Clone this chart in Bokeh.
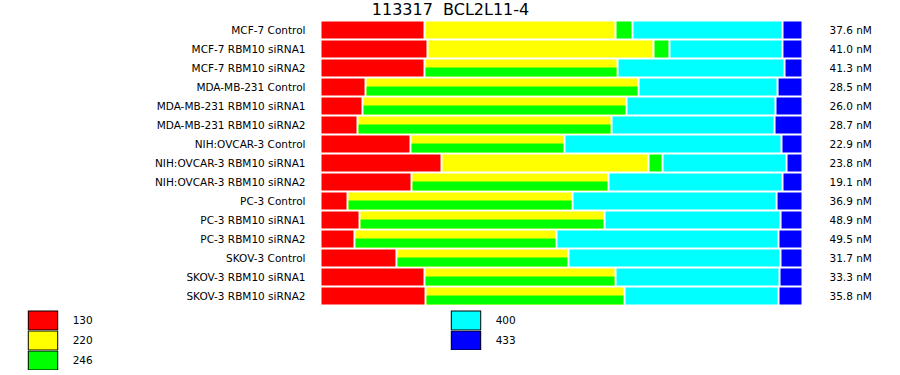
from bokeh.plotting import figure
from bokeh.models import Range1d, Legend, LegendItem, Label, ColumnDataSource
from bokeh.core.properties import value
from bokeh.embed import file_html
from bokeh.resources import INLINE

title_text = "113317\u00a0 BCL2L11-4"

samples = [
    "MCF-7 Control", "MCF-7 RBM10 siRNA1", "MCF-7 RBM10 siRNA2",
    "MDA-MB-231 Control", "MDA-MB-231 RBM10 siRNA1", "MDA-MB-231 RBM10 siRNA2",
    "NIH:OVCAR-3 Control", "NIH:OVCAR-3 RBM10 siRNA1", "NIH:OVCAR-3 RBM10 siRNA2",
    "PC-3 Control", "PC-3 RBM10 siRNA1", "PC-3 RBM10 siRNA2",
    "SKOV-3 Control", "SKOV-3 RBM10 siRNA1", "SKOV-3 RBM10 siRNA2",
]
totals = ["37.6 nM", "41.0 nM", "41.3 nM", "28.5 nM", "26.0 nM", "28.7 nM",
          "22.9 nM", "23.8 nM", "19.1 nM", "36.9 nM", "48.9 nM", "49.5 nM",
          "31.7 nM", "33.3 nM", "35.8 nM"]

# percent share of each isoform (130, 220, 246, 400, 433)
share_130 = [21.67, 22.29, 21.67, 9.38, 8.75, 7.71, 18.75, 25.21, 18.96, 5.63, 8.13, 7.08, 15.83, 21.67, 21.88]
share_220 = [39.79, 47.08, 40.21, 56.88, 55.00, 52.92, 32.08, 43.13, 41.04, 46.88, 51.04, 42.08, 35.83, 39.79, 41.46]
share_246 = [3.54, 3.33, 0, 0, 0, 0, 0, 2.92, 0, 0, 0, 0, 0, 0, 0]
# rows where 220 and 246 share one span (drawn as upper/lower halves)
shared_220_246 = [False, False, True, True, True, True, True, False, True, True, True, True, True, True, True]
share_400 = [31.25, 23.54, 34.79, 28.96, 31.04, 33.96, 45.21, 25.83, 36.25, 42.50, 36.67, 46.25, 44.17, 34.17, 32.08]
share_433 = [3.75, 3.75, 3.33, 4.79, 5.21, 5.42, 3.96, 2.92, 3.75, 5.00, 4.17, 4.58, 4.17, 4.38, 4.58]

legend_labels = ["130", "220", "246", "400", "433"]
colors = ["#FF0000", "#FFFF00", "#00FF00", "#00FFFF", "#0000FF"]

FONT = "DejaVu Sans"
W, H = 900, 375
BAR_LEFT_PX, PX_PER_UNIT = 321, 4.8     # 0..100 % spans 480 px
ROW0_PX, ROW_PITCH = 29.5, 19
GAP = 2 / PX_PER_UNIT                   # white gap between segments
FULL_H = 17 / ROW_PITCH
HALF_H = 9 / ROW_PITCH

p = figure(width=W, height=H, output_backend="svg", toolbar_location=None,
           x_range=Range1d(-BAR_LEFT_PX / PX_PER_UNIT, (W - BAR_LEFT_PX) / PX_PER_UNIT),
           y_range=Range1d((H - ROW0_PX) / ROW_PITCH, -ROW0_PX / ROW_PITCH),
           min_border=0, x_axis_location=None, y_axis_location=None,
           outline_line_color=None)
p.grid.visible = False
p.background_fill_color = "white"
p.border_fill_color = "white"

segs = {c: dict(y=[], left=[], right=[], h=[]) for c in colors}


def add(c, y, left, right, h):
    segs[c]["y"].append(y)
    segs[c]["left"].append(left)
    segs[c]["right"].append(right)
    segs[c]["h"].append(h)


for i in range(len(samples)):
    r = share_130[i]
    add(colors[0], i, 0.0, r - GAP, FULL_H)
    x1 = r
    yv = share_220[i]
    add(colors[1], i, x1, x1 + yv - GAP, FULL_H)
    x2 = x1 + yv
    if shared_220_246[i]:
        add(colors[2], i + 4 / ROW_PITCH, x1, x1 + yv - GAP, HALF_H)
    else:
        g = share_246[i]
        add(colors[2], i, x2, x2 + g - GAP, FULL_H)
        x2 = x2 + g
    c4 = share_400[i]
    add(colors[3], i, x2, x2 + c4 - GAP, FULL_H)
    x3 = x2 + c4
    add(colors[4], i, x3, min(100.0, x3 + share_433[i]), FULL_H)

for c in colors:
    p.hbar(y="y", left="left", right="right", height="h", source=ColumnDataSource(segs[c]),
           fill_color=c, line_color=None)

rows = list(range(len(samples)))
p.text(x=[-16 / PX_PER_UNIT] * len(rows), y=rows, text=samples, text_align="right",
       text_baseline="middle", text_font=value(FONT), text_font_size=value("10.5px"),
       text_color="black")
p.text(x=[100 + 28 / PX_PER_UNIT] * len(rows), y=rows, text=totals, text_align="left",
       text_baseline="middle", text_font=value(FONT), text_font_size=value("10.5px"),
       text_color="black")

# legend swatches: black outer ring + coloured inner box (renderers hold no visible point)
nan = float("nan")
items = []
for c, lab in zip(colors, legend_labels):
    ring = p.quad(left=[nan], right=[nan], top=[nan], bottom=[nan], fill_color=None,
                  line_color="black", line_width=4, line_join="miter")
    box = p.quad(left=[nan], right=[nan], top=[nan], bottom=[nan], fill_color=c,
                 line_color=c, line_width=2, line_join="miter")
    items.append(LegendItem(label=lab, renderers=[ring, box]))

leg_style = dict(orientation="vertical", glyph_width=33, glyph_height=20, spacing=0,
                 label_standoff=14, padding=0, margin=0, border_line_color=None,
                 background_fill_alpha=0, label_text_font=FONT, label_text_font_size="10.5px",
                 label_text_color="black", label_height=20)
p.add_layout(Legend(items=items[:3], location=(25.7, 5), **leg_style))
p.add_layout(Legend(items=items[3:], location=(448.7, 25), **leg_style))

p.add_layout(Label(x=(450 - BAR_LEFT_PX) / PX_PER_UNIT, y=(9 - ROW0_PX) / ROW_PITCH,
                   text=title_text, text_align="center", text_baseline="alphabetic",
                   text_font=FONT, text_font_size="16px", text_color="black"))

open("out.html", "w").write(file_html(p, INLINE))
